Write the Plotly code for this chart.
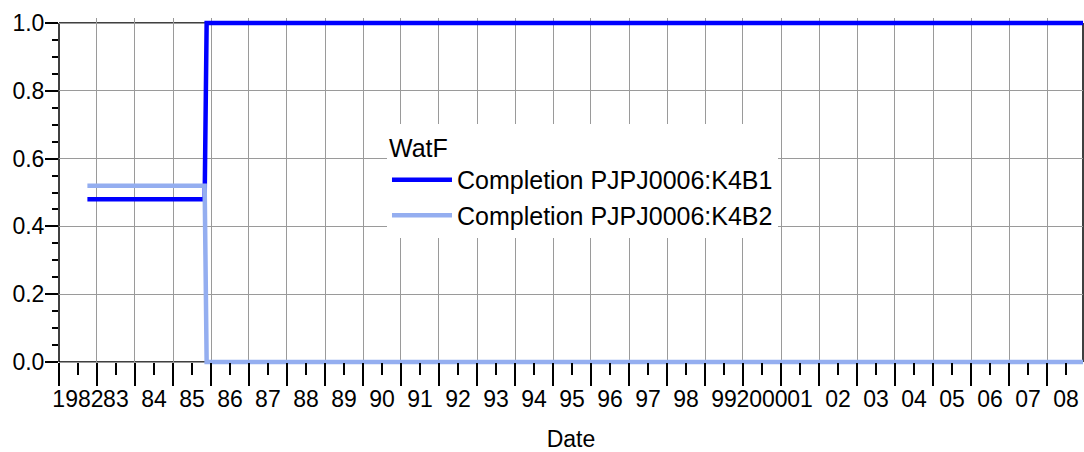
import plotly.graph_objects as go

# Water fraction per completion over time
dates = ["1982-10-01", "1985-11-01", "1985-11-20", "2008-12-31"]
watf_k4b1 = [0.48, 0.48, 1.0, 1.0]
watf_k4b2 = [0.52, 0.52, 0.0, 0.0]
series_names = ["Completion PJPJ0006:K4B1", "Completion PJPJ0006:K4B2"]
series_colors = ["#0000FF", "#94AEF0"]

years = list(range(1982, 2009))
year_labels = [str(y) if y in (1982, 2000) else f"{y % 100:02d}" for y in years]
year_starts = [f"{y}-01-01" for y in years]
year_mids = [f"{y}-07-02" for y in years]

y_ticks = [0.0, 0.2, 0.4, 0.6, 0.8, 1.0]
y_minor = [round(0.05 * i, 2) for i in range(21)]

FONT = "Liberation Sans, Arial, Helvetica, sans-serif"
pad = 5 / 339  # room so the thick lines at 0 and 1 are not clipped

fig = go.Figure()
for vals, name, col in zip([watf_k4b1, watf_k4b2], series_names, series_colors):
    fig.add_trace(go.Scatter(x=dates, y=vals, mode="lines", name=name,
                             line=dict(color=col, width=4.5, shape="linear")))

fig.update_layout(
    width=1084, height=452,
    margin=dict(l=59, r=1, t=18, b=85, autoexpand=False),
    paper_bgcolor="white", plot_bgcolor="white",
    font=dict(family=FONT, size=23, color="black"),
    showlegend=True,
    legend=dict(
        title=dict(text="WatF", font=dict(size=25)),
        font=dict(size=25),
        x=0.3203, y=0.695, xanchor="left", yanchor="top",
        bgcolor="white", borderwidth=0, itemwidth=60,
        tracegroupgap=0,
    ),
    xaxis=dict(
        range=["1982-01-01", "2008-12-12"],
        anchor="free", position=5 / 349,
        automargin=False,
        tickmode="array", tickvals=year_mids, ticktext=year_labels,
        ticks="outside", ticklen=12, tickwidth=1.5, tickcolor="black",
        showgrid=False, zeroline=False, showline=False,
        tickfont=dict(size=23),
        ticklabelstandoff=4,
        tickangle=0,
        minor=dict(tickmode="array", tickvals=year_starts, ticks="outside",
                   ticklen=23, tickwidth=1.5, tickcolor="black",
                   showgrid=True, gridcolor="#9a9a9a", gridwidth=1.2),
        title=dict(text="Date", font=dict(size=23), standoff=31),
    ),
    yaxis=dict(
        range=[-pad, 1 + pad],
        automargin=False,
        tickmode="array", tickvals=y_ticks, ticktext=[f"{v:.1f}" for v in y_ticks],
        ticks="outside", ticklen=13, tickwidth=1.5, tickcolor="black",
        showgrid=True, gridcolor="#9a9a9a", gridwidth=1.2,
        zeroline=False, showline=False,
        tickfont=dict(size=23),
        ticklabelstandoff=-4,
        minor=dict(tickmode="array", tickvals=y_minor, ticks="outside",
                   ticklen=6, tickwidth=1.5, tickcolor="black", showgrid=False),
    ),
)

# Frame: axis line at 0, border at 1, left and right edges
frame = dict(type="line", line=dict(color="black", width=1.5), layer="between")
fig.add_shape(**frame, xref="paper", yref="y", x0=0, x1=1, y0=0, y1=0)
fig.add_shape(**frame, xref="paper", yref="y", x0=0, x1=1, y0=1, y1=1)
fig.add_shape(**frame, xref="paper", yref="y", x0=0, x1=0, y0=0, y1=1)
fig.add_shape(**frame, xref="paper", yref="y", x0=1, x1=1, y0=0, y1=1)

fig.write_html("out.html")
